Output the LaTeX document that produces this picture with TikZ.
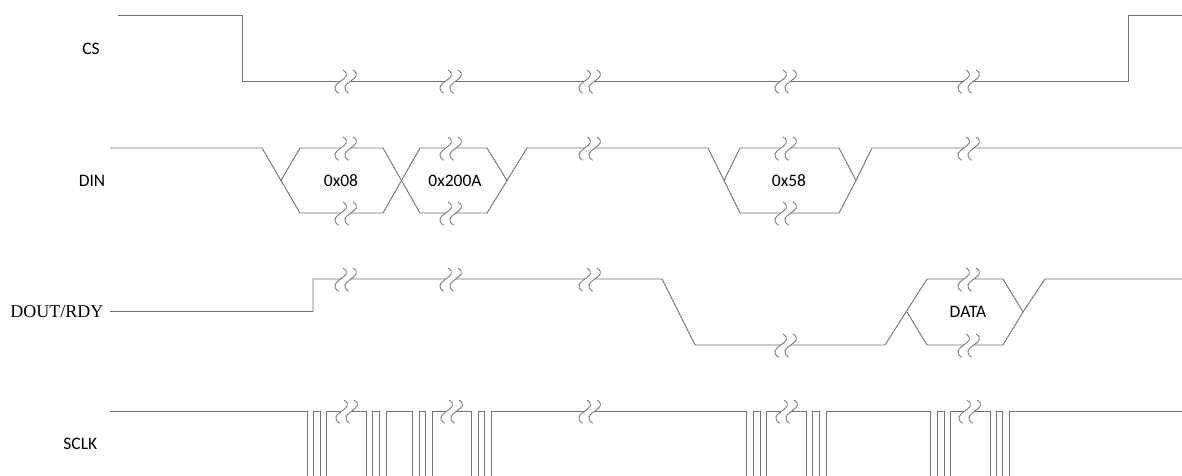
\documentclass[tikz,border=0pt]{standalone}
\usepackage{fontspec}
\setmainfont{Carlito}
\newfontfamily\serifrm{Liberation Serif}
\definecolor{wire}{RGB}{112,112,112}
\tikzset{
  sig/.style={draw=wire, line width=0.9pt, line join=miter},
  lbl/.style={font=\fontsize{17.5}{20}\selectfont, inner sep=0pt},
  brk/.pic={
    \fill[white] (-3,-11) .. controls (11,-2) and (-22,2) .. (-7.4,12.3)
       -- (2.6,12.3) .. controls (-12,2) and (21,-2) .. (7,-11) -- cycle;
    \draw[wire, line width=0.8pt] (-3,-11) .. controls (11,-2) and (-22,2) .. (-7.4,12.3);
    \draw[wire, line width=0.8pt] (7,-11) .. controls (21,-2) and (-12,2) .. (2.6,12.3);
  }
}
\begin{document}
\begin{tikzpicture}[x=1pt,y=-1pt]
\useasboundingbox (0,0) rectangle (1182,475);
\clip (0,0) rectangle (1182,475);
% labels
\node[lbl] (cs) at (91,49) {CS};
\node[lbl] (din) at (92,181) {DIN};
\node[inner sep=0pt, anchor=east, font=\serifrm\fontsize{18}{20}\selectfont] (dout) at (103.5,311.5) {DOUT/RDY};
\node[lbl] (sclk) at (80.3,444) {SCLK};
% CS
\draw[sig] (118,15.5) -- (242,15.5) -- (242,81) -- (1128,81) -- (1128,15.5) -- (1182,15.5);
% DIN
\draw[sig] (110,148) -- (262,148) -- (300,213) -- (383,213) -- (420,148) -- (487,148) -- (507,180.5) -- (527,148) -- (708,148) -- (740,213) -- (839,213) -- (856,180.5) -- (872,148) -- (1182,148);
\draw[sig] (281,180.5) -- (300,148) -- (383,148) -- (420,213) -- (487,213) -- (507,180.5);
\draw[sig] (724,180.5) -- (740,148) -- (839,148) -- (856,180.5);
% DOUT
\draw[sig] (110,311.5) -- (313,311.5) -- (313,279) -- (662,279) -- (695,345) -- (885,345) -- (927,279) -- (1003,279) -- (1023,312) -- (1045,279) -- (1182,279);
\draw[sig] (907,312) -- (927,345) -- (1003,345) -- (1023,312);
% SCLK
\draw[sig] (110,411)
  -- (307.3,411) -- (307.3,500) -- (313.3,500) -- (313.3,411)
  -- (320.7,411) -- (320.7,500) -- (326.7,500) -- (326.7,411)
  -- (366,411) -- (366,500) -- (372.7,500) -- (372.7,411)
  -- (379.3,411) -- (379.3,500) -- (386,500) -- (386,411)
  -- (412.7,411) -- (412.7,500) -- (419.3,500) -- (419.3,411)
  -- (425.3,411) -- (425.3,500) -- (432,500) -- (432,411)
  -- (471.7,411) -- (471.7,500) -- (478.3,500) -- (478.3,411)
  -- (484,411) -- (484,500) -- (491,500) -- (491,411)
  -- (746.7,411) -- (746.7,500) -- (753.3,500) -- (753.3,411)
  -- (760.7,411) -- (760.7,500) -- (766.7,500) -- (766.7,411)
  -- (806,411) -- (806,500) -- (812.7,500) -- (812.7,411)
  -- (819.3,411) -- (819.3,500) -- (826,500) -- (826,411)
  -- (930.7,411) -- (930.7,500) -- (937.3,500) -- (937.3,411)
  -- (944,411) -- (944,500) -- (950.7,500) -- (950.7,411)
  -- (990,411) -- (990,500) -- (996.7,500) -- (996.7,411)
  -- (1002.7,411) -- (1002.7,500) -- (1009.3,500) -- (1009.3,411)
  -- (1182,411);
% bus texts
\node[lbl] (t1) at (341,181) {0x08};
\node[lbl] (t2) at (455,181) {0x200A};
\node[lbl] (t3) at (789,181) {0x58};
\node[lbl] (t4) at (968,312) {DATA};
% break symbols
\foreach \x in {346,451,590,786,969} \pic at (\x,81) {brk};
\foreach \x in {346,451,786} { \pic at (\x,148) {brk}; \pic at (\x,213) {brk}; }
\foreach \x in {590,969} \pic at (\x,148) {brk};
\foreach \x in {346,451,590} \pic at (\x,279) {brk};
\pic at (786,345) {brk};
\pic at (969,279) {brk};
\pic at (969,345) {brk};
\foreach \x in {347,452,590,787,970} \pic at (\x,411) {brk};
\end{tikzpicture}
\end{document}
